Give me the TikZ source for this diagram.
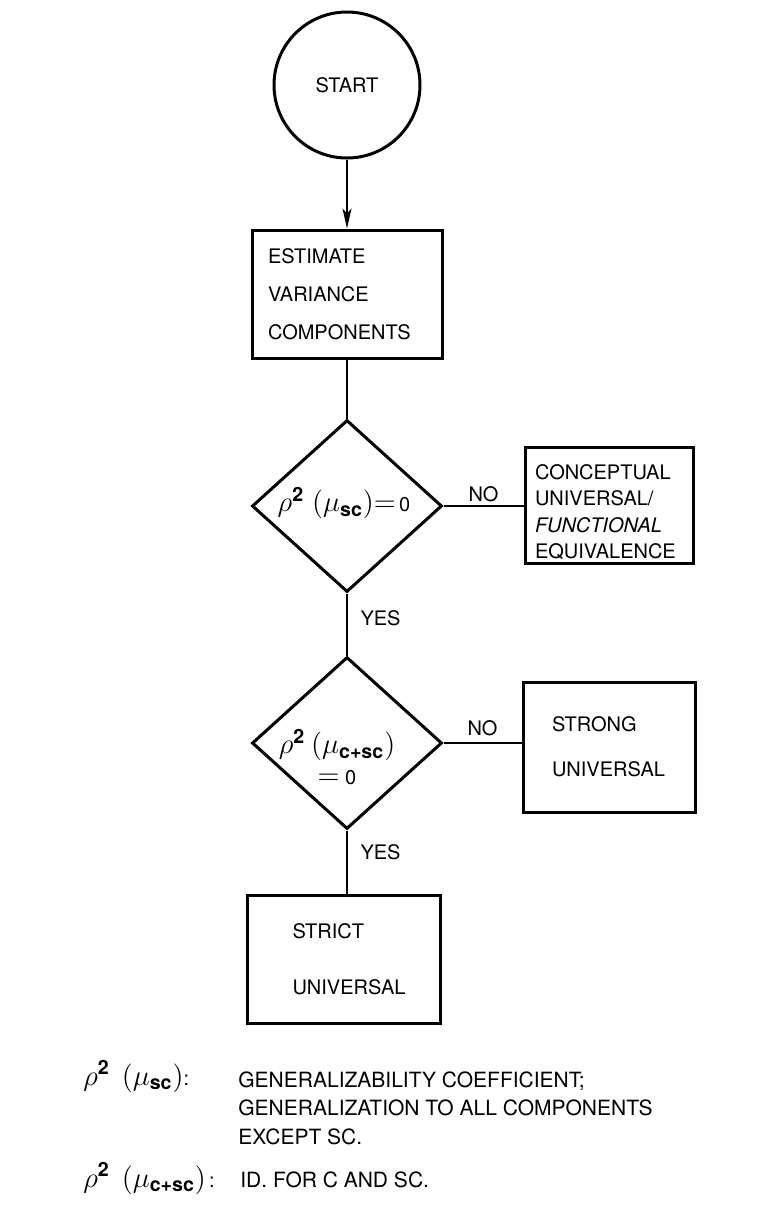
\documentclass[tikz,border=0pt]{standalone}
\usepackage{amsmath}
\usepackage{fontspec}
\setmainfont{TeX Gyre Heros}
\usetikzlibrary{shapes.geometric, arrows.meta}
\newcommand{\bigmath}[1]{{\fontsize{14}{16}\selectfont$#1$}}
\newcommand{\rhosq}{\bigmath{\rho^{\text{\bfseries 2}}}}
\newcommand{\musub}[1]{\bigmath{(\mu_{\text{\bfseries #1}})}}

\begin{document}
\begin{tikzpicture}[x=0.5pt,y=-0.5pt, font=\fontsize{10}{12}\selectfont,
    box/.style={draw, line width=1.5pt, inner sep=0pt, align=left},
    boxtext/.style={inner sep=0pt, align=left},
    decision/.style={draw, diamond, line width=1.5pt, inner sep=0pt, minimum width=95pt, minimum height=86pt},
    link/.style={line width=0.9pt},
    key/.style={inner sep=0pt, anchor=base west}]
  \useasboundingbox (0,0) rectangle (763,1206);
  % flow
  \node[draw, circle, line width=1.5pt, minimum size=73pt] (start) at (347,85) {START};
  \node[box, minimum width=95pt, minimum height=64pt, text width=79pt,
        font=\fontsize{10}{19}\selectfont] (est) at (347,294) {ESTIMATE\\VARIANCE\\COMPONENTS};
  \node[decision] (q1) at (347,506) {};
  \node (q1text) at (344,503) {\rhosq\hspace{4pt}\musub{sc}\bigmath{=}\,0};
  \node[box, minimum width=84pt, minimum height=58pt,
        label={[boxtext, text width=74pt, font=\fontsize{10}{13.3}\selectfont, yshift=-3.5pt]center:
        {CONCEPTUAL\\UNIVERSAL/\\\textsl{FUNCTIONAL}\\EQUIVALENCE}}] (concept) at (609,505) {};
  \node[decision] (q2) at (347,743) {};
  \node[align=center, font=\fontsize{10}{15.5}\selectfont] (q2text) at (337,757)
        {\rhosq\hspace{3pt}\musub{c+sc}\\\bigmath{=}\ 0};
  \node[box, minimum width=86pt, minimum height=65pt, text width=57pt,
        font=\fontsize{10}{22.5}\selectfont] (strong) at (609,747) {STRONG\\UNIVERSAL};
  \node[box, minimum width=96.5pt, minimum height=64pt,
        label={[boxtext, text width=57pt, font=\fontsize{10}{28}\selectfont, xshift=2.75pt]center:
        {STRICT\\UNIVERSAL}}] (strict) at (344,959) {};
  \draw[link, -{Stealth[length=10pt, width=4.5pt, inset=2.5pt]}] (start) -- (est);
  \draw[link] (est) -- (q1);
  \draw[link] (q1.east) -- node[above=-1.5pt] (no1) {NO} (q1.east -| concept.west);
  \draw[link] (q1) -- node[right=3pt, pos=0.4] (yes1) {YES} (q2);
  \draw[link] (q2.east) -- node[above=0pt] (no2) {NO} (q2.east -| strong.west);
  \draw[link] (q2.south) -- node[right=3pt, pos=0.35] (yes2) {YES} (q2.south |- strict.north);
  % key
  \node[key] (key1) at (83,1085) {\rhosq\hspace{6pt}\musub{sc}:};
  \node[inner sep=0pt, anchor=north west, align=left, font=\fontsize{10.5}{14.25}\selectfont]
        (key1text) at (238,1071) {GENERALIZABILITY COEFFICIENT;\\GENERALIZATION TO ALL COMPONENTS\\EXCEPT SC.};
  \node[key] (key2) at (83,1187) {\rhosq\hspace{6pt}\musub{c+sc}\,:};
  \node[key, font=\fontsize{10.5}{14.25}\selectfont] (key2text) at (240,1187) {ID. FOR C AND SC.};
\end{tikzpicture}
\end{document}
